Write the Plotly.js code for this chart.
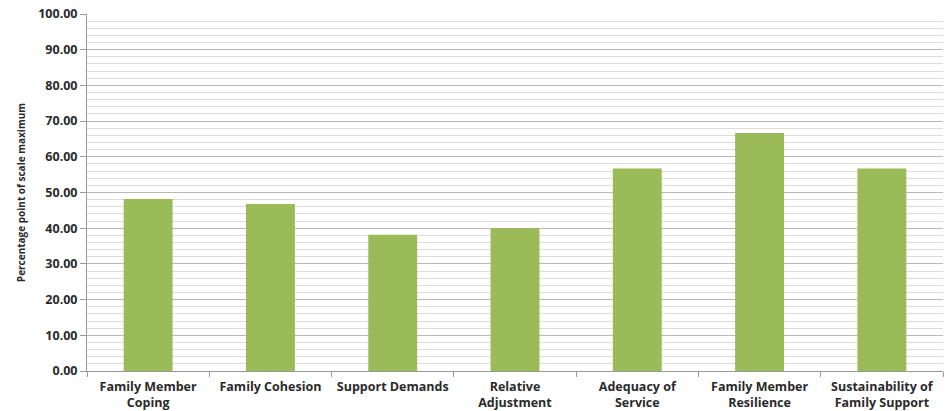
<!DOCTYPE html>
<html>
<head>
<meta charset="utf-8">
<script src="https://cdn.plot.ly/plotly-3.0.1.min.js"></script>
<style>html,body{margin:0;padding:0;background:#fff;}#chart{width:952px;height:411px;}</style>
</head>
<body>
<div id="chart"></div>
<script>
const categories = ["Family Member<br>Coping", "Family Cohesion", "Support Demands", "Relative<br>Adjustment", "Adequacy of<br>Service", "Family Member<br>Resilience", "Sustainability of<br>Family Support"];
const values = [48.2, 46.8, 38.2, 40.0, 56.7, 66.7, 56.7];
const yTickValues = [0, 10, 20, 30, 40, 50, 60, 70, 80, 90, 100];

const trace = {
  type: "bar",
  x: categories,
  y: values,
  marker: {color: "#9BBB59", line: {width: 0}},
  width: 0.4,
  hoverinfo: "x+y"
};

const layout = {
  width: 952, height: 411,
  margin: {l: 87, r: 9, t: 14, b: 40},
  paper_bgcolor: "#fff", plot_bgcolor: "#fff",
  showlegend: false,
  font: {family: "Open Sans, Liberation Sans, sans-serif", color: "#2a2a2a"},
  xaxis: {
    type: "category",
    tickson: "boundaries",
    ticks: "outside", ticklen: 5, tickcolor: "#999",
    showline: true, linecolor: "#999", linewidth: 1,
    showgrid: false,
    ticklabelstandoff: 4,
    tickfont: {size: 12.5, family: "Open Sans, sans-serif", weight: "bold", color: "#2a2a2a"},
    automargin: false
  },
  yaxis: {
    range: [0, 100],
    tickvals: yTickValues,
    tickformat: ".2f",
    ticks: "outside", ticklen: 6, tickcolor: "#999",
    showline: true, linecolor: "#999", linewidth: 1,
    showgrid: true, gridcolor: "#b8b8b8", gridwidth: 1,
    minor: {dtick: 2, showgrid: true, gridcolor: "#dcdcdc", gridwidth: 1, ticks: ""},
    zeroline: false,
    tickfont: {size: 12.5, family: "Open Sans, sans-serif", weight: "bold", color: "#2a2a2a"},
    title: {text: "Percentage point of scale maximum", font: {size: 10, family: "Open Sans, sans-serif", weight: "bold", color: "#2a2a2a"}, standoff: 10},
    automargin: false
  }
};

Plotly.newPlot("chart", [trace], layout, {displayModeBar: false, staticPlot: true});
</script>
</body>
</html>
